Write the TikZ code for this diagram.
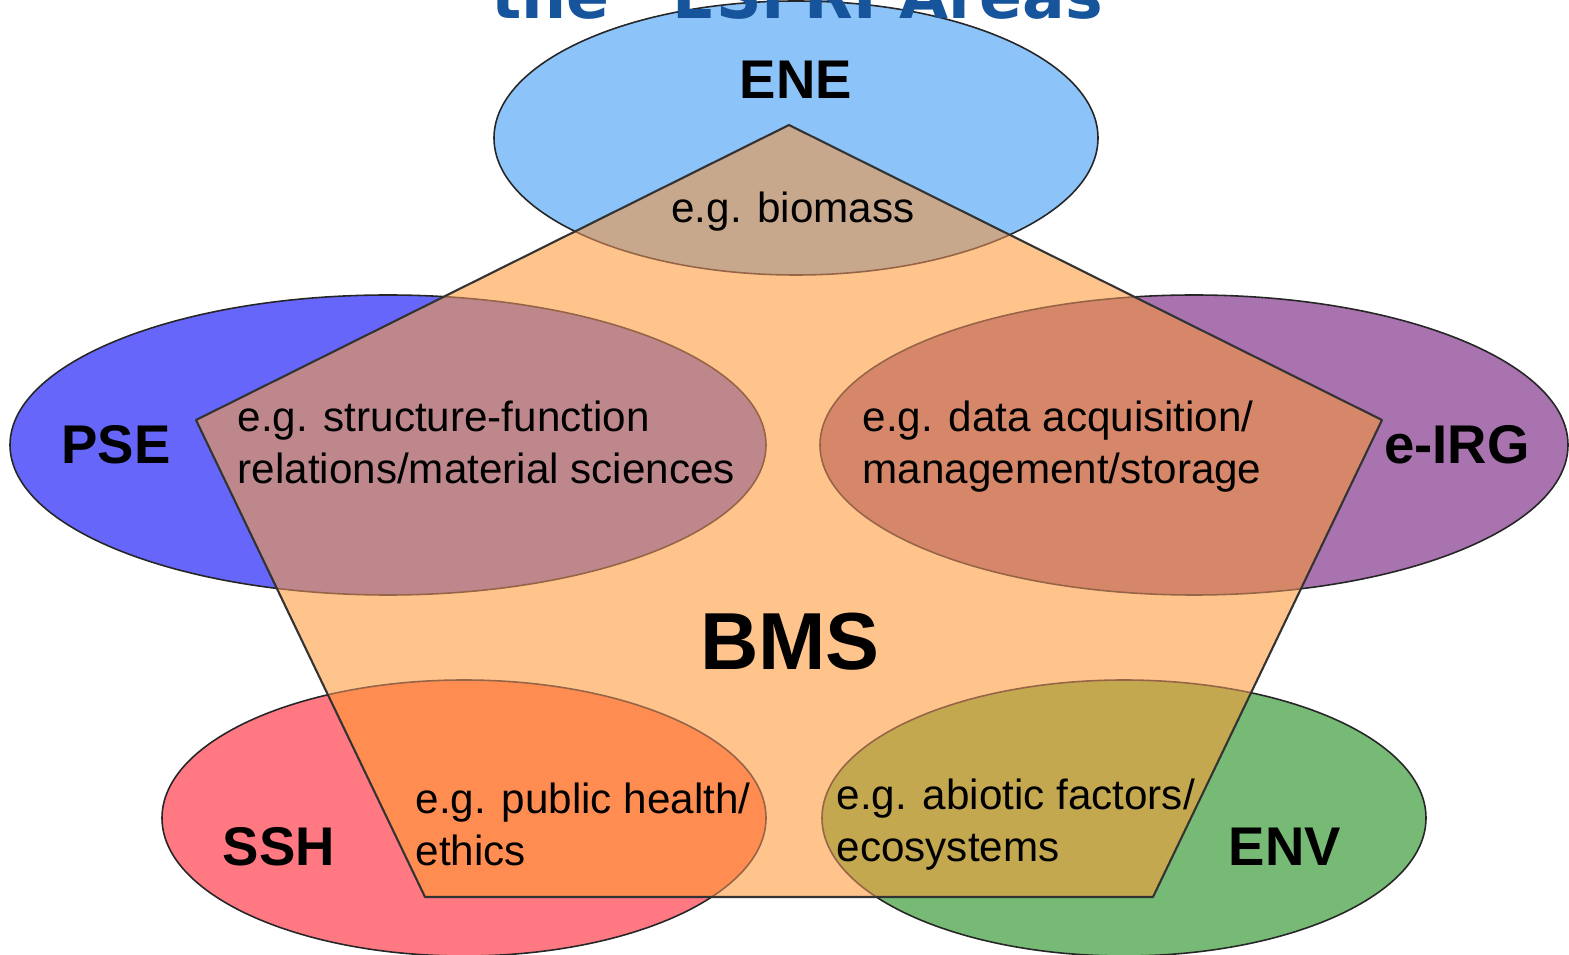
\documentclass[tikz,border=0pt]{standalone}
\usepackage{fontspec}
\setmainfont{Liberation Sans}
\newfontfamily\headfont{DejaVu Sans}

\definecolor{pentafill}{RGB}{255,196,140}
\definecolor{enefill}{RGB}{140,196,250}
\definecolor{enemix}{RGB}{200,168,140}
\definecolor{psefill}{RGB}{102,102,250}
\definecolor{psemix}{RGB}{190,135,140}
\definecolor{eirgfill}{RGB}{168,115,175}
\definecolor{eirgmix}{RGB}{215,135,105}
\definecolor{sshfill}{RGB}{255,120,130}
\definecolor{sshmix}{RGB}{255,140,80}
\definecolor{envfill}{RGB}{118,186,118}
\definecolor{envmix}{RGB}{195,168,80}
\definecolor{headblue}{RGB}{22,85,155}
\definecolor{innerrim}{RGB}{150,100,70}

\begin{document}
\begin{tikzpicture}[x=0.01cm, y=-0.01cm,
  rim/.style={draw=black!85, line width=0.45pt},
  mixrim/.style={draw=innerrim, line width=0.45pt},
  area/.style={font=\fontsize{15.5}{18}\selectfont\bfseries, inner sep=0pt},
  example/.style={align=left, font=\fontsize{12}{14.8}\selectfont, inner sep=0pt, anchor=west}]
  \useasboundingbox (0,0) rectangle (1569,955);

  \coordinate (ptop) at (789,125);
  \coordinate (pright) at (1382,420);
  \coordinate (pbr) at (1153,897);
  \coordinate (pbl) at (425,897);
  \coordinate (pleft) at (196,420);

  \def\eneoval{(796,138) ellipse [x radius=302, y radius=137]}
  \def\pseoval{(388,445) ellipse [x radius=378, y radius=150]}
  \def\eirgoval{(1194,445) ellipse [x radius=374, y radius=150]}
  \def\sshoval{(464,818) ellipse [x radius=302, y radius=138]}
  \def\envoval{(1124,818) ellipse [x radius=302, y radius=138]}

  \path[rim, fill=enefill] \eneoval;
  \path[rim, fill=psefill] \pseoval;
  \path[rim, fill=eirgfill] \eirgoval;
  \path[rim, fill=sshfill] \sshoval;
  \path[rim, fill=envfill] \envoval;

  \fill[pentafill] (ptop) -- (pright) -- (pbr) -- (pbl) -- (pleft) -- cycle;
  \begin{scope}
    \clip (ptop) -- (pright) -- (pbr) -- (pbl) -- (pleft) -- cycle;
    \path[mixrim, fill=enemix] \eneoval;
    \path[mixrim, fill=psemix] \pseoval;
    \path[mixrim, fill=eirgmix] \eirgoval;
    \path[mixrim, fill=sshmix] \sshoval;
    \path[mixrim, fill=envmix] \envoval;
  \end{scope}
  \draw[black!80, line width=0.6pt, line join=round] (ptop) -- (pright) -- (pbr) -- (pbl) -- (pleft) -- cycle;

  \node[anchor=base, text=headblue, font=\headfont\fontsize{18}{20}\selectfont\bfseries] (head) at (797,19) {the “ESFRI Areas};

  \node[area] (ene) at (796,80) {ENE};
  \node[area] (pse) at (116,445) {PSE};
  \node[area] (eirg) at (1457,445) {e-IRG};
  \node[area] (ssh) at (279,847) {SSH};
  \node[area] (env) at (1285,847) {ENV};
  \node[area, font=\fontsize{23}{26}\selectfont\bfseries] (bms) at (790,642) {BMS};

  \node[example, anchor=center] (biomass) at (793,212) {e.g. biomass};
  \node[example] (psetext) at (237,442) {e.g. structure-function\\relations/material sciences};
  \node[example] (eirgtext) at (862,447) {e.g. data acquisition/\\management/storage};
  \node[example] (sshtext) at (415,824) {e.g. public health/\\ethics};
  \node[example] (envtext) at (836,825) {e.g. abiotic factors/\\ecosystems};
\end{tikzpicture}
\end{document}
